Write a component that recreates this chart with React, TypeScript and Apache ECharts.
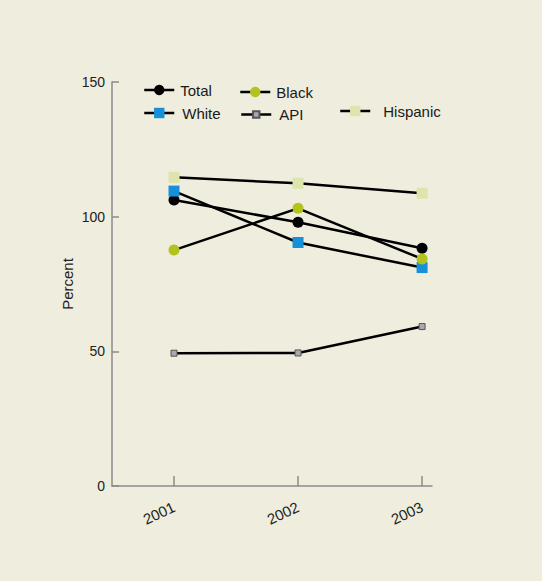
import React, { useEffect, useRef } from "react";
import * as echarts from "echarts";

const years = [2001, 2002, 2003];
const yTicks = [0, 50, 100, 150];
const totalVals = [106.2, 97.9, 88.3];
const blackVals = [87.6, 103.1, 84.3];
const whiteVals = [109.5, 90.4, 81.1];
const apiVals = [49.3, 49.4, 59.2];
const hispanicVals = [114.6, 112.4, 108.7];

const BG = "#efeddd";
const FONT = "'Liberation Sans', Arial, Helvetica, sans-serif";

function pts(vals: number[]) {
  return years.map((y, i) => [y, vals[i]]);
}

function lineSeries(name: string, vals: number[], symbol: string, size: number, color: string, border?: string) {
  return {
    name,
    type: "line",
    data: pts(vals),
    symbol,
    symbolSize: size,
    showAllSymbol: true,
    lineStyle: { color: "#000", width: 2.5 },
    itemStyle: {
      color,
      borderColor: border || color,
      borderWidth: border ? 1 : 0,
    },
    z: 3,
  };
}

function legendItem(name: string, left: number, cy: number, gap: number, iconH: number) {
  return {
    orient: "vertical",
    left,
    top: cy - iconH / 2,
    padding: 0,
    itemWidth: 30,
    itemHeight: iconH,
    lineStyle: { width: 2.5, color: "#000" },
    selectedMode: false,
    data: [name],
    textStyle: {
      fontFamily: FONT,
      fontSize: 15,
      color: "#1a1a1a",
      padding: [0, 0, 0, gap - 5],
    },
  };
}

export default function App() {
  const ref = useRef<HTMLDivElement>(null);
  useEffect(() => {
    document.body.style.margin = "0";
    document.body.style.background = BG;
    const chart = echarts.init(ref.current!, undefined, { renderer: "svg" });
    chart.setOption({
      animation: false,
      backgroundColor: BG,
      textStyle: { fontFamily: FONT },
      grid: { left: 112, right: 110, top: 82, bottom: 95 },
      legend: [
        legendItem("Total", 143, 89, 6, 13),
        legendItem("Black", 239, 91, 6, 13),
        legendItem("White", 143, 112, 8, 13),
        legendItem("API", 240, 111, 8, 8),
        legendItem("Hispanic", 339, 110, 13, 13),
      ],
      xAxis: {
        type: "value",
        min: 2000.5,
        max: 2003.08,
        splitLine: { show: false },
        axisLine: { show: true, lineStyle: { color: "#8a8a8a", width: 1.5 } },
        axisTick: {
          show: true,
          inside: true,
          length: 10,
          customValues: years,
          lineStyle: { color: "#8a8a8a", width: 1.5 },
        },
        axisLabel: {
          customValues: years,
          rotate: 25,
          margin: 20,
          fontSize: 15,
          color: "#222",
          fontFamily: FONT,
          formatter: (v: number) => String(v),
        },
      },
      yAxis: {
        type: "value",
        min: 0,
        max: 150,
        interval: 50,
        name: "Percent",
        nameLocation: "middle",
        nameGap: 37,
        nameMoveOverlap: false,
        nameTextStyle: { fontSize: 15, color: "#222", fontFamily: FONT },
        splitLine: { show: false },
        axisLine: { show: true, lineStyle: { color: "#8a8a8a", width: 1.5 } },
        axisTick: { show: true, inside: true, length: 7, lineStyle: { color: "#8a8a8a", width: 1.5 } },
        axisLabel: {
          customValues: yTicks,
          margin: 7,
          fontSize: 14,
          color: "#222",
          fontFamily: FONT,
        },
      },
      series: [
        lineSeries("Total", totalVals, "circle", 11, "#000"),
        lineSeries("White", whiteVals, "rect", 11, "#1690d8"),
        lineSeries("Black", blackVals, "circle", 11, "#b4c21e"),
        lineSeries("API", apiVals, "rect", 6, "#a9a9b3", "#555"),
        lineSeries("Hispanic", hispanicVals, "rect", 11, "#dde5ad"),
      ],
    });
    return () => chart.dispose();
  }, []);
  return <div ref={ref} style={{ width: 542, height: 581 }} />;
}
